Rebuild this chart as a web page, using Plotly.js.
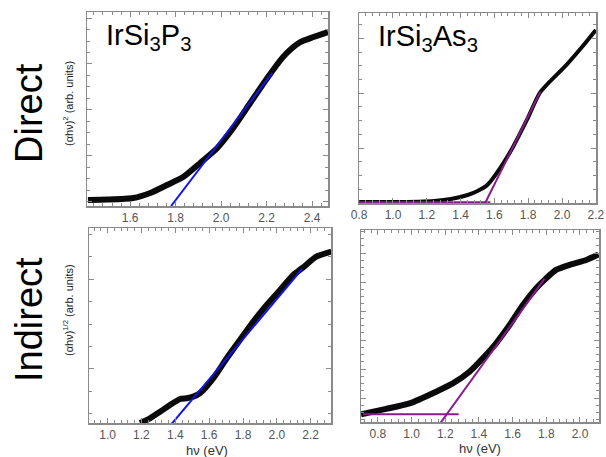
<!DOCTYPE html>
<html><head><meta charset="utf-8">
<script src="https://cdn.plot.ly/plotly-3.0.1.min.js"></script>
<style>html,body{margin:0;padding:0;background:#fff}#c{width:606px;height:457px}</style>
</head><body><div id="c"></div>
<script>
// Direct gap, IrSi3P3 (normalized arb. units)
const dirP_x = [1.414, 1.50, 1.613, 1.688, 1.762, 1.833, 1.908, 1.983, 2.053, 2.128, 2.203, 2.27, 2.31, 2.348, 2.406, 2.47];
const dirP_y = [0.031, 0.033, 0.041, 0.067, 0.108, 0.149, 0.222, 0.299, 0.402, 0.531, 0.660, 0.765, 0.812, 0.845, 0.871, 0.897];
const dirP_fitX = [1.78, 2.225];
const dirP_fitY = [0.0, 0.686];
// Direct gap, IrSi3As3
const dirAs_x = [0.8, 1.0, 1.243, 1.343, 1.442, 1.50, 1.558, 1.634, 1.71, 1.792, 1.868, 1.926, 2.025, 2.118, 2.2];
const dirAs_y = [0.005, 0.005, 0.011, 0.021, 0.042, 0.063, 0.095, 0.184, 0.295, 0.437, 0.579, 0.637, 0.726, 0.821, 0.911];
const dirAs_baseX = [0.8, 1.576];
const dirAs_baseY = [0.004, 0.004];
const dirAs_fitX = [1.527, 1.872];
const dirAs_fitY = [-0.033, 0.586];
// Indirect gap, IrSi3P3
const indP_x = [1.191, 1.25, 1.31, 1.369, 1.428, 1.467, 1.506, 1.546, 1.625, 1.704, 1.782, 1.861, 1.94, 2.019, 2.097, 2.155, 2.233, 2.322];
const indP_y = [0.0, 0.024, 0.058, 0.092, 0.123, 0.127, 0.135, 0.153, 0.23, 0.332, 0.426, 0.52, 0.605, 0.682, 0.759, 0.798, 0.853, 0.879];
const indP_fitX = [1.373, 2.15];
const indP_fitY = [-0.01, 0.79];
// Indirect gap, IrSi3As3
const indAs_x = [0.70, 0.849, 0.988, 1.146, 1.245, 1.344, 1.423, 1.502, 1.582, 1.661, 1.74, 1.799, 1.858, 1.938, 2.037, 2.11];
const indAs_y = [0.04, 0.068, 0.097, 0.158, 0.201, 0.262, 0.332, 0.41, 0.505, 0.609, 0.696, 0.748, 0.792, 0.818, 0.844, 0.873];
const indAs_baseX = [0.712, 1.28];
const indAs_baseY = [0.04, 0.04];
const indAs_fitX = [1.166, 1.789];
const indAs_fitY = [-0.012, 0.745];

const blue = '#1414e6', purple = '#8a1a8f', blk = '#0a0a0a';
const curve = (x, y, xa, ya, w) => ({x, y, xaxis: xa, yaxis: ya, mode: 'lines', line: {color: blk, width: w, shape: 'spline', smoothing: 0.6}, hoverinfo: 'skip'});
const fit = (x, y, xa, ya, c) => ({x, y, xaxis: xa, yaxis: ya, mode: 'lines', line: {color: c, width: 2}, hoverinfo: 'skip'});

const data = [
  curve(dirP_x, dirP_y, 'x', 'y', 6),
  fit(dirP_fitX, dirP_fitY, 'x', 'y', blue),
  curve(dirAs_x, dirAs_y, 'x2', 'y2', 4),
  fit(dirAs_baseX, dirAs_baseY, 'x2', 'y2', purple),
  fit(dirAs_fitX, dirAs_fitY, 'x2', 'y2', purple),
  curve(indP_x, indP_y, 'x3', 'y3', 6),
  fit(indP_fitX, indP_fitY, 'x3', 'y3', blue),
  curve(indAs_x, indAs_y, 'x4', 'y4', 6),
  fit(indAs_baseX, indAs_baseY, 'x4', 'y4', purple),
  fit(indAs_fitX, indAs_fitY, 'x4', 'y4', purple)
];

const W = 606, H = 457;
const dx = (a, b) => [a / W, b / W];
const dy = (top, bot) => [1 - bot / H, 1 - top / H];
const tickFont = {family: 'Liberation Sans, Arial, sans-serif', size: 12, color: '#555'};
const frame = '#8a8a8a';
const xax = (dom, range, anchor) => ({
  domain: dom, range: range, anchor: anchor,
  tickmode: 'linear', tick0: 0, dtick: 0.2, tickformat: '.1f',
  ticks: 'inside', ticklen: 5, tickcolor: frame, tickwidth: 1,
  minor: {ticks: 'inside', ticklen: 3, dtick: 0.04, tick0: 0, tickcolor: '#8a8a8a', tickwidth: 1, showgrid: false},
  showline: true, linecolor: frame, linewidth: 1.5, mirror: 'allticks',
  ticklabeloverflow: 'allow',
  showgrid: false, zeroline: false, tickfont: tickFont, fixedrange: true
});
const yax = (dom, tick0, dtick, anchor) => ({
  domain: dom, range: [0, 1], anchor: anchor,
  showticklabels: false, tickmode: 'linear', tick0: tick0, dtick: dtick,
  ticks: 'inside', ticklen: 5, tickcolor: frame,
  minor: {ticks: 'inside', ticklen: 3, dtick: dtick / 4, tick0: tick0, tickcolor: '#8a8a8a', tickwidth: 1, showgrid: false},
  showline: true, linecolor: frame, linewidth: 1.5, mirror: 'allticks',
  showgrid: false, zeroline: false, fixedrange: true
});

const big = {family: 'Liberation Sans, Arial, sans-serif', size: 38, color: '#000'};
const mid = {family: 'Liberation Sans, Arial, sans-serif', size: 29, color: '#000'};
const small = {family: 'Liberation Sans, Arial, sans-serif', size: 11, color: '#222'};
const axlab = {family: 'Liberation Sans, Arial, sans-serif', size: 13, color: '#333'};
const px = (x) => x / W, py = (y) => 1 - y / H;

const annotations = [
  {text: 'IrSi<sub>3</sub>P<sub>3</sub>', x: px(104), y: py(37), xanchor: 'left', yanchor: 'middle', font: mid},
  {text: 'IrSi<sub>3</sub>As<sub>3</sub>', x: px(376), y: py(38), xanchor: 'left', yanchor: 'middle', font: mid},
  {text: 'Direct', x: px(29), y: py(113), textangle: -90, xanchor: 'center', yanchor: 'middle', font: big},
  {text: 'Indirect', x: px(29), y: py(320), textangle: -90, xanchor: 'center', yanchor: 'middle', font: big},
  {text: '(αhν)<sup>2</sup> (arb. units)', x: px(68), y: py(104), textangle: -90, xanchor: 'center', yanchor: 'middle', font: small},
  {text: '(αhν)<sup>1/2</sup> (arb. units)', x: px(68), y: py(310), textangle: -90, xanchor: 'center', yanchor: 'middle', font: small},
  {text: 'hν (eV)', x: px(207), y: py(450), xanchor: 'center', yanchor: 'middle', font: axlab},
  {text: 'hν (eV)', x: px(480), y: py(448), xanchor: 'center', yanchor: 'middle', font: axlab}
].map(a => Object.assign({xref: 'paper', yref: 'paper', showarrow: false}, a));

const layout = {
  width: W, height: H, margin: {l: 0, r: 0, t: 0, b: 0},
  paper_bgcolor: '#fff', plot_bgcolor: '#fff', showlegend: false,
  xaxis: xax(dx(87, 328), [1.41, 2.47], 'y'),
  yaxis: yax(dy(12, 206), 0.021, 0.237, 'x'),
  xaxis2: xax(dx(359, 596), [0.799, 2.201], 'y2'),
  yaxis2: yax(dy(13, 203), 0, 0.289, 'x2'),
  xaxis3: xax(dx(89, 331), [0.89, 2.32], 'y3'),
  yaxis3: yax(dy(228, 423), 0.277, 0.461, 'x3'),
  xaxis4: xax(dx(361, 599), [0.70, 2.113], 'y4'),
  yaxis4: yax(dy(230, 422), 0.125, 0.151, 'x4'),
  annotations: annotations
};

Plotly.newPlot('c', data, layout, {staticPlot: true, displayModeBar: false});
</script>
</body></html>
